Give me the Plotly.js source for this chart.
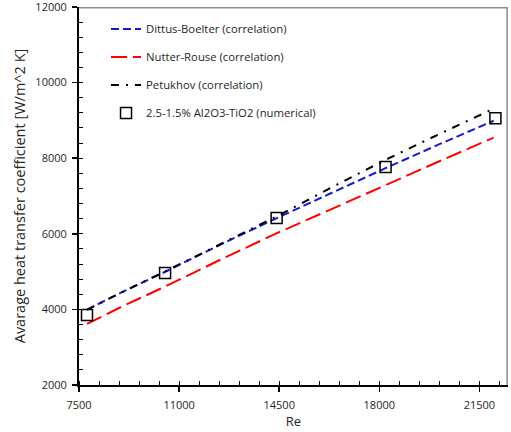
<!DOCTYPE html>
<html>
<head>
<meta charset="utf-8">
<script src="https://cdn.plot.ly/plotly-3.0.1.min.js"></script>
<style>html,body{margin:0;padding:0;background:#fff;}#chart{width:511px;height:432px;}</style>
</head>
<body>
<div id="chart"></div>
<script>
// Correlation curves
const reCorr = [7780, 9000, 10500, 12500, 14400, 16300, 18200, 20100, 22000];
const dittusBoelter = [3995, 4455, 4990, 5735, 6410, 7080, 7730, 8370, 8990];
const nutterRouse   = [3615, 4075, 4600, 5335, 6010, 6655, 7280, 7920, 8545];
const petukhov      = [3990, 4455, 5000, 5755, 6455, 7215, 7950, 8640, 9310];
// Numerical results
const reNum = [7780, 10510, 14410, 18220, 22060];
const hNum  = [3850, 4960, 6420, 7770, 9055];
// Axis ticks
const xTicks = [7500, 11000, 14500, 18000, 21500];
const yTicks = [2000, 4000, 6000, 8000, 10000, 12000];

const FONT = '"Open Sans", sans-serif';
const TXT = '#262626';
const traces = [
  {x: reCorr, y: dittusBoelter, name: 'Dittus-Boelter (correlation)', mode: 'lines',
   line: {color: '#1a1acc', width: 2, dash: '8px,4px'}, legendgroup: 'a'},
  {x: reCorr, y: nutterRouse, name: 'Nutter-Rouse (correlation)', mode: 'lines',
   line: {color: '#ff0000', width: 2, dash: '16px,6px'}, legendgroup: 'b'},
  {x: reCorr, y: petukhov, name: 'Petukhov (correlation)', mode: 'lines',
   line: {color: '#000000', width: 2, dash: '8px,7px,2px,7px'}, legendgroup: 'c'},
  {x: reNum, y: hNum, name: '2.5-1.5% Al2O3-TiO2 (numerical)', mode: 'markers',
   marker: {symbol: 'square-open', size: 11, color: '#000', line: {width: 1.5, color: '#000'}}, legendgroup: 'd'}
];

const axisBase = {
  showgrid: false, zeroline: false, showline: true, linecolor: '#000', linewidth: 2,
  ticks: 'outside', ticklen: 5, tickwidth: 1.5, tickcolor: '#000', ticklabeloverflow: 'allow'
};

const layout = {
  width: 511, height: 432,
  margin: {l: 79, r: 3, t: 7, b: 47},
  paper_bgcolor: '#fff', plot_bgcolor: 'rgba(0,0,0,0)',
  font: {family: FONT, size: 12, color: TXT},
  showlegend: true,
  legend: {x: 0.063, y: 0.98, xanchor: 'left', yanchor: 'top', bgcolor: 'rgba(0,0,0,0)',
           font: {family: FONT, size: 11.3, color: TXT}, traceorder: 'grouped', tracegroupgap: 9},
  xaxis: Object.assign({}, axisBase, {
    range: [7500, 22500], tickvals: xTicks, ticktext: xTicks.map(String),
    ticklabelstandoff: 4,
    minor: {dtick: 700, tick0: 7500, ticks: 'inside', ticklen: 4, tickwidth: 1, tickcolor: '#000', showgrid: false},
    title: {text: 'Re', font: {family: FONT, size: 13, color: TXT}, standoff: 4},
    tickfont: {family: FONT, size: 11, color: TXT}
  }),
  yaxis: Object.assign({}, axisBase, {
    range: [2000, 12000], tickvals: yTicks, ticktext: yTicks.map(String),
    ticklabelstandoff: 3,
    minor: {dtick: 400, tick0: 2000, ticks: 'inside', ticklen: 4, tickwidth: 1, tickcolor: '#000', showgrid: false},
    title: {text: 'Avarage heat transfer coefficient [W/m^2 K]', font: {family: FONT, size: 14.5, color: TXT}, standoff: 6},
    tickfont: {family: FONT, size: 11, color: TXT}
  }),
  shapes: [
    {type: 'line', xref: 'paper', yref: 'paper', x0: 0, x1: 1, y0: 0.998, y1: 0.998, line: {color: '#8c8c8c', width: 1.5}},
    {type: 'line', xref: 'paper', yref: 'paper', x0: 0.998, x1: 0.998, y0: 0, y1: 1, line: {color: '#8c8c8c', width: 1.5}}
  ]
};

Plotly.newPlot('chart', traces, layout, {displayModeBar: false, staticPlot: true});
</script>
</body>
</html>
